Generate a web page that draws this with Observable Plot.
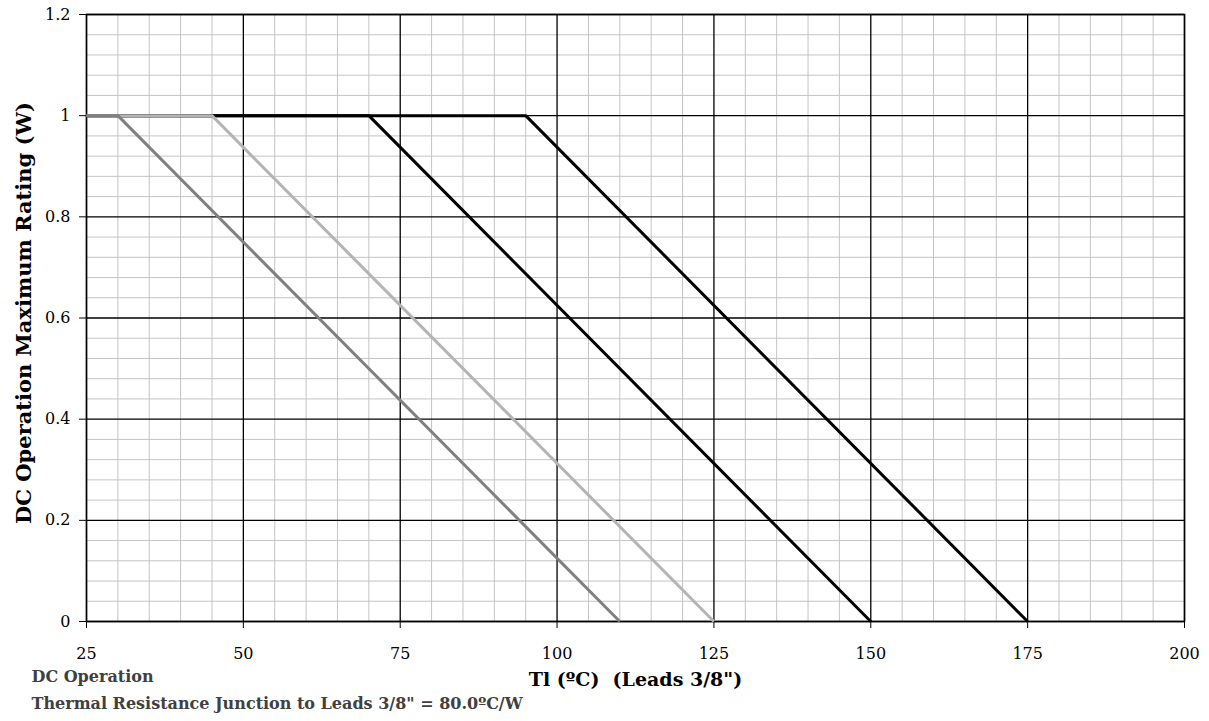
<!DOCTYPE html>
<html>
<head>
<meta charset="utf-8">
<script src="https://cdn.jsdelivr.net/npm/d3@7"></script>
<script src="https://cdn.jsdelivr.net/npm/@observablehq/plot@0.6"></script>
<style>
  html, body { margin: 0; padding: 0; background: #fff; }
</style>
</head>
<body>
<div id="chart"></div>
<script>
// Temperature (°C, leads 3/8") and DC maximum rating (W) per curve
const curveA_T = [25, 30, 110];
const curveA_P = [1, 1, 0];
const curveB_T = [25, 45, 125];
const curveB_P = [1, 1, 0];
const curveC_T = [25, 70, 150];
const curveC_P = [1, 1, 0];
const curveD_T = [25, 95, 175];
const curveD_P = [1, 1, 0];

const curveNames = ["D", "C", "B", "A"]; // drawing order (last on top)
const curveColors = {A: "#808080", B: "#b4b4b4", C: "#000000", D: "#000000"};

const xTicks = [25, 50, 75, 100, 125, 150, 175, 200];
const yTicks = [0, 0.2, 0.4, 0.6, 0.8, 1, 1.2];
const xMinor = d3.range(25, 200.01, 5).filter(v => v % 25 !== 0);
const yMinor = d3.range(0, 1.2001, 0.04).map(v => +v.toFixed(2)).filter(v => Math.abs(v / 0.2 - Math.round(v / 0.2)) > 1e-6);

const xTitle = "Tl (ºC)  (Leads 3/8\")";
const yTitle = "DC Operation Maximum Rating (W)";
const note1 = "DC Operation";
const note2 = "Thermal Resistance Junction to Leads 3/8\" = 80.0ºC/W";

const raw = {A: [curveA_T, curveA_P], B: [curveB_T, curveB_P], C: [curveC_T, curveC_P], D: [curveD_T, curveD_P]};
const rows = curveNames.flatMap(name => raw[name][0].map((t, i) => ({curve: name, t, p: raw[name][1][i]})));

const font = "'DejaVu Serif', 'Liberation Serif', serif";

const chart = Plot.plot({
  width: 1209,
  height: 721,
  marginLeft: 86,
  marginRight: 25,
  marginTop: 14,
  marginBottom: 100,
  style: {fontFamily: font, fontSize: "16px", color: "#000", background: "#fff"},
  x: {domain: [25, 200]},
  y: {domain: [0, 1.2]},
  marks: [
    Plot.ruleX(xMinor, {stroke: "#c4c4c4", strokeWidth: 1}),
    Plot.ruleY(yMinor, {stroke: "#c4c4c4", strokeWidth: 1}),
    Plot.ruleX(xTicks, {stroke: "#000", strokeWidth: 1.3}),
    Plot.ruleY(yTicks, {stroke: "#000", strokeWidth: 1.3}),
    Plot.frame({stroke: "#000", strokeWidth: 1.5}),
    Plot.axisX({ticks: xTicks, tickSize: 7, tickPadding: 19, label: null, stroke: "#000", tickFormat: d => String(d)}),
    Plot.axisY({ticks: yTicks, tickSize: 7, tickPadding: 9, label: null, stroke: "#000", tickFormat: d => String(+d.toFixed(1))}),
    ...curveNames.map(name => Plot.line(rows.filter(r => r.curve === name), {
      x: "t", y: "p", stroke: curveColors[name], strokeWidth: 3, strokeLinejoin: "miter", strokeLinecap: "butt"
    })),
    Plot.text([yTitle], {text: d => d, frameAnchor: "left", textAnchor: "middle", dx: -62, dy: -5, rotate: -90, fontWeight: "bold", fontSize: 21, fill: "#000"}),
    Plot.text([xTitle], {text: d => d, frameAnchor: "bottom", textAnchor: "middle", dy: 64, fontWeight: "bold", fontSize: 19, fill: "#000"}),
    Plot.text([note1], {text: d => d, frameAnchor: "bottom-left", dx: -55, dy: 60, textAnchor: "start", fontWeight: "bold", fontSize: 16, fill: "#404040"}),
    Plot.text([note2], {text: d => d, frameAnchor: "bottom-left", dx: -55, dy: 87, textAnchor: "start", fontWeight: "bold", fontSize: 16, fill: "#404040"})
  ]
});
document.getElementById("chart").appendChild(chart);
</script>
</body>
</html>
